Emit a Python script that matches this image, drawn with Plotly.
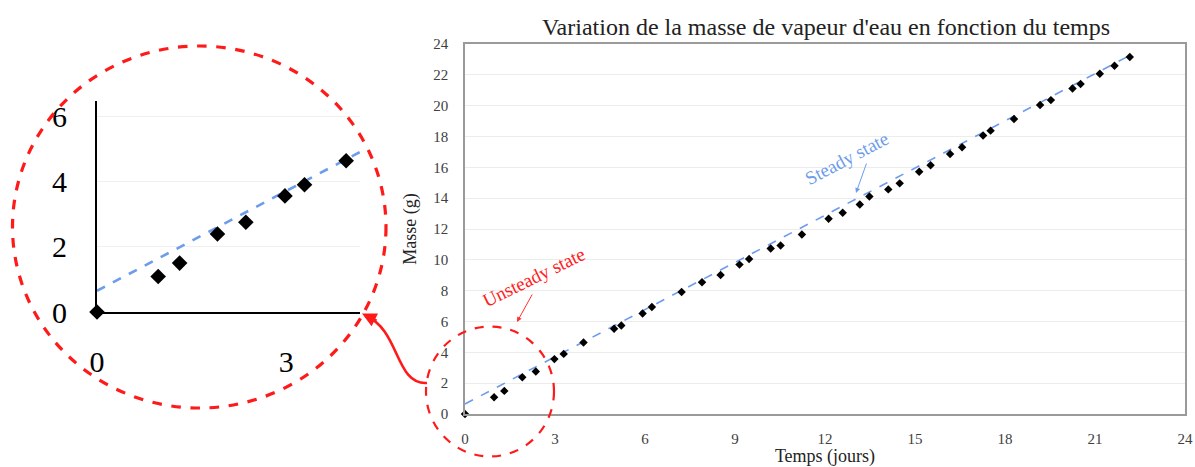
import plotly.graph_objects as go

# ---- data ----
temps = [0, 0.97, 1.31, 1.91, 2.36, 2.98, 3.29, 3.95, 4.97, 5.21, 5.92, 6.23,
         7.22, 7.90, 8.52, 9.15, 9.47, 10.19, 10.52, 11.23, 12.12, 12.59, 13.16,
         13.48, 14.11, 14.49, 15.14, 15.52, 16.17, 16.57, 17.27, 17.52, 18.30,
         19.17, 19.53, 20.25, 20.52, 21.16, 21.65, 22.16]
masse = [0, 1.09, 1.50, 2.39, 2.75, 3.56, 3.90, 4.64, 5.53, 5.74, 6.52, 6.94,
         7.92, 8.54, 9.02, 9.69, 10.06, 10.73, 10.93, 11.64, 12.67, 13.05, 13.59,
         14.11, 14.57, 14.96, 15.72, 16.13, 16.87, 17.30, 18.06, 18.38, 19.14,
         20.04, 20.36, 21.11, 21.40, 22.07, 22.59, 23.15]
trend_x = [0, 22.3]
trend_y = [0.65, 23.4]

x_ticks = [0, 3, 6, 9, 12, 15, 18, 21, 24]
y_ticks = [0, 2, 4, 6, 8, 10, 12, 14, 16, 18, 20, 22, 24]
inset_x_ticks = [0, 3]
inset_y_ticks = [0, 2, 4, 6]
inset_xmax = 4.17
inset_ymax = 6.47

W, H = 1195, 467
def px(x): return x / W
def py(y): return 1 - y / H

SERIF = "Liberation Serif"
TREND = "#6d9ceb"
RED = "#ff1a1a"

fig = go.Figure()

# main chart
fig.add_trace(go.Scatter(x=trend_x, y=trend_y, mode="lines",
                         line=dict(color=TREND, width=1.6, dash="dash"),
                         hoverinfo="skip", showlegend=False))
fig.add_trace(go.Scatter(x=temps, y=masse, mode="markers",
                         marker=dict(symbol="diamond", size=6.5, color="black"),
                         cliponaxis=False, showlegend=False))

# inset (zoom)
ins_x = [t for t in temps if t <= inset_xmax]
ins_y = [m for t, m in zip(temps, masse) if t <= inset_xmax]
fig.add_trace(go.Scatter(x=trend_x, y=trend_y, mode="lines", xaxis="x2", yaxis="y2",
                         line=dict(color=TREND, width=2.6, dash="dash"),
                         hoverinfo="skip", showlegend=False))
fig.add_trace(go.Scatter(x=ins_x, y=ins_y, mode="markers", xaxis="x2", yaxis="y2",
                         marker=dict(symbol="diamond", size=12, color="black"),
                         cliponaxis=False, showlegend=False))

fig.update_layout(
    width=W, height=H,
    margin=dict(l=0, r=0, t=0, b=0, autoexpand=False),
    paper_bgcolor="white", plot_bgcolor="white",
    font=dict(family=SERIF, color="#404040"),
    title=dict(text="Variation de la masse de vapeur d'eau en fonction du temps",
               x=px(826), y=py(27), xanchor="center", yanchor="middle",
               font=dict(family=SERIF, size=24, color="#222")),
    xaxis=dict(domain=[px(465), px(1185)], range=[0, 24], tickvals=x_ticks,
               automargin=False,
               showgrid=False, zeroline=False, showline=True, linecolor="#9a9a9a",
               linewidth=1.5, mirror=True, ticks="", ticklabelstandoff=10,
               tickfont=dict(size=15, color="#404040"),
               title=dict(text="Temps (jours)", standoff=3,
                          font=dict(size=18, color="#222"))),
    yaxis=dict(domain=[py(414), py(44)], range=[0, 24], tickvals=y_ticks,
               automargin=False,
               showgrid=True, gridcolor="#ececec", gridwidth=1, zeroline=False,
               showline=True, linecolor="#9a9a9a", linewidth=1.5, mirror=True,
               ticks="", ticklabelstandoff=12,
               tickfont=dict(size=15, color="#404040"),
               title=dict(text="Masse (g)", standoff=12,
                          font=dict(size=18, color="#222"))),
    xaxis2=dict(domain=[px(97), px(360)], range=[0, inset_xmax], tickvals=inset_x_ticks,
                automargin=False,
                anchor="y2", showgrid=False, zeroline=False, showline=True,
                linecolor="black", linewidth=2, ticks="", ticklabelstandoff=22,
                tickfont=dict(size=30, color="black")),
    yaxis2=dict(domain=[py(312), py(101)], range=[0, inset_ymax], tickvals=inset_y_ticks,
                automargin=False,
                anchor="x2", showgrid=True, gridcolor="#f0f0f0", zeroline=False,
                showline=True, linecolor="black", linewidth=2, ticks="",
                ticklabelstandoff=22, tickfont=dict(size=30, color="black")),
)

# red dashed circles
fig.add_shape(type="circle", xref="paper", yref="paper",
              x0=px(12.5), x1=px(386), y0=py(408), y1=py(46),
              line=dict(color=RED, width=3.2, dash="dash"))
fig.add_shape(type="circle", xref="paper", yref="paper",
              x0=px(426), x1=px(554), y0=py(456.5), y1=py(326.5),
              line=dict(color=RED, width=2.2, dash="dash"))

# curved red arrow from small circle to inset
path = "M {},{} C {},{} {},{} {},{}".format(
    px(427), py(383), px(395), py(385), px(400), py(330), px(366), py(316))
fig.add_shape(type="path", xref="paper", yref="paper", path=path,
              line=dict(color=RED, width=2.6))
fig.add_annotation(xref="paper", yref="paper", x=px(362), y=py(313.5), text="",
                   showarrow=True, ax=16, ay=8, arrowhead=2, arrowsize=1.1,
                   arrowwidth=2.6, arrowcolor=RED)

# text annotations (text and pointer arrow placed separately)
fig.add_annotation(xref="paper", yref="paper", x=px(533), y=py(277),
                   text="Unsteady state", showarrow=False,
                   font=dict(family=SERIF, size=19, color="#ff2020"),
                   textangle=-26, xanchor="center", yanchor="middle")
fig.add_annotation(xref="paper", yref="paper", x=px(517), y=py(322), text="",
                   showarrow=True, ax=16, ay=-29, arrowhead=2, arrowsize=1,
                   arrowwidth=1, arrowcolor="#ff3030", standoff=0, startstandoff=0)
fig.add_annotation(xref="paper", yref="paper", x=px(846.5), y=py(158),
                   text="Steady state", showarrow=False,
                   font=dict(family=SERIF, size=19, color=TREND),
                   textangle=-28, xanchor="center", yanchor="middle")
fig.add_annotation(xref="paper", yref="paper", x=px(856), y=py(193), text="",
                   showarrow=True, ax=11, ay=-31, arrowhead=2, arrowsize=1,
                   arrowwidth=1, arrowcolor=TREND, standoff=0, startstandoff=0)

# remove the browser's default 8px page margin so the figure fills the window
fig.write_html("out.html", config={"displayModeBar": False},
               post_script="document.body.style.margin='0';")
